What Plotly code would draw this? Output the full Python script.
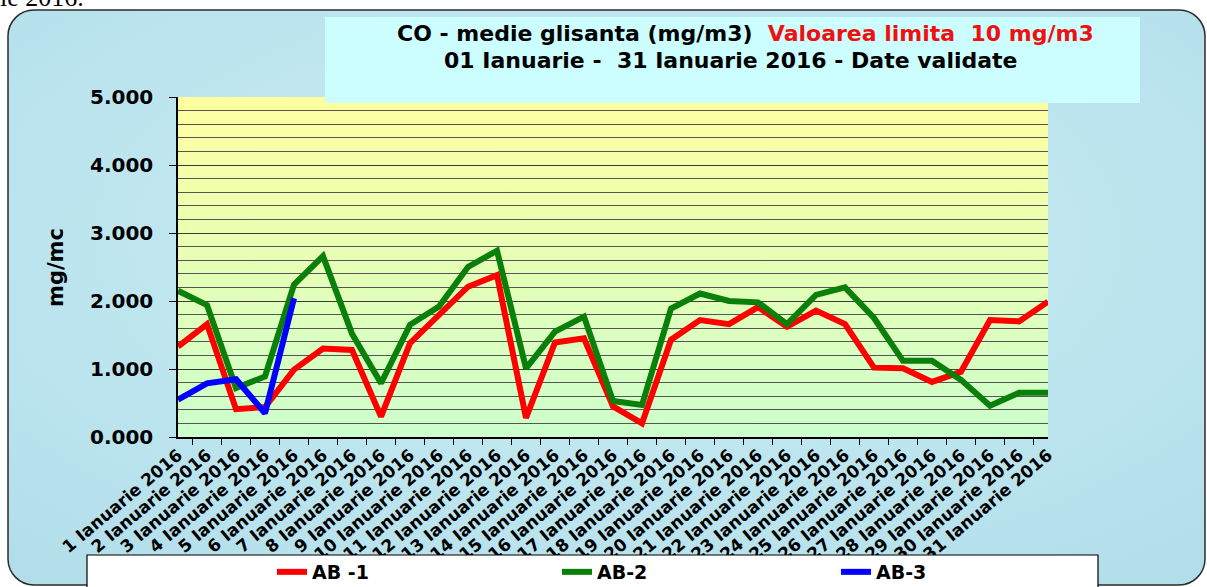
import urllib.parse

import plotly.graph_objects as go

# ---- data ----
days = [f"{d} Ianuarie 2016" for d in range(1, 32)]

ab1 = [1.33, 1.66, 0.41, 0.44, 0.99, 1.30, 1.28, 0.30, 1.38, 1.80,
       2.21, 2.38, 0.28, 1.39, 1.45, 0.45, 0.20, 1.43, 1.72, 1.66,
       1.91, 1.62, 1.86, 1.66, 1.02, 1.01, 0.81, 0.96, 1.72, 1.70, 1.99]
ab2 = [2.15, 1.94, 0.72, 0.89, 2.24, 2.66, 1.52, 0.79, 1.65, 1.92,
       2.50, 2.74, 1.01, 1.55, 1.77, 0.53, 0.47, 1.89, 2.11, 2.00,
       1.98, 1.66, 2.09, 2.20, 1.75, 1.12, 1.12, 0.84, 0.46, 0.65, 0.65]
ab3 = [0.55, 0.79, 0.85, 0.35, 2.04]

series = [("AB -1", ab1, "#ff0000"), ("AB-2", ab2, "#0a7f0a"), ("AB-3", ab3, "#0000ff")]

y_ticks = [0, 1, 2, 3, 4, 5]

# ---- page geometry (pixels) ----
W, H = 1207, 587
L, R, T, B = 178, 1048, 97, 437
PW, PH = R - L, B - T


def px(x):
    return (x - L) / PW


def py(y):
    return (B - y) / PH


def svg_uri(svg):
    return "data:image/svg+xml;charset=utf-8," + urllib.parse.quote(svg)


page_svg = (
    f"<svg xmlns='http://www.w3.org/2000/svg' width='{W}' height='{H}' "
    f"viewBox='0 0 {W} {H}' preserveAspectRatio='none'>"
    "<defs><radialGradient id='g' cx='0.5' cy='0.4' r='0.8'>"
    "<stop offset='0' stop-color='#cdeff6'/><stop offset='1' stop-color='#b0dde9'/>"
    "</radialGradient></defs>"
    f"<rect width='{W}' height='{H}' fill='white'/>"
    "<rect x='8' y='10' width='1197' height='575' rx='26' ry='26' "
    "fill='url(#g)' stroke='#2b2b2b' stroke-width='1.5'/></svg>"
)

plot_svg = (
    "<svg xmlns='http://www.w3.org/2000/svg' width='100' height='100' "
    "viewBox='0 0 100 100' preserveAspectRatio='none'>"
    "<defs><linearGradient id='p' x1='0' y1='0' x2='0' y2='1'>"
    "<stop offset='0' stop-color='#ffffa0'/><stop offset='1' stop-color='#ccffcc'/>"
    "</linearGradient></defs><rect width='100' height='100' fill='url(#p)'/></svg>"
)

bold = dict(family="DejaVu Sans, Arial, sans-serif", color="black", weight="bold")

# one legend per series so each entry sits where the reference has it
legend_names = ["legend", "legend2", "legend3"]
legend_text_x = [312, 597, 876]

fig = go.Figure()
for (name, vals, color), lg in zip(series, legend_names):
    fig.add_trace(go.Scatter(
        x=days[:len(vals)], y=vals, mode="lines", name=name, legend=lg,
        line=dict(color=color, width=6),
    ))

fig.update_xaxes(
    type="category", categoryorder="array", categoryarray=days,
    tickson="boundaries", ticks="outside", ticklen=6, tickcolor="black",
    showline=True, linecolor="black", linewidth=1.5,
    showgrid=False, tickangle=-40, automargin=False,
    tickfont=dict(size=17, **bold),
)
fig.update_yaxes(
    range=[0, 5], tickvals=y_ticks, tickformat=".3f",
    ticks="outside", ticklen=7, tickcolor="black",
    showline=True, linecolor="black", linewidth=1.5,
    showgrid=True, gridcolor="#3a3a3a", gridwidth=1.3,
    minor=dict(dtick=0.2, showgrid=True, gridcolor="#555555", gridwidth=1.3),
    zeroline=False, automargin=False, ticklabelstandoff=12,
    tickfont=dict(size=20, **bold),
)

legends = {
    lg: dict(
        orientation="h", xref="container", yref="container",
        x=(tx - 40) / W, y=1 - 572 / H, xanchor="left", yanchor="middle",
        bgcolor="rgba(0,0,0,0)", font=dict(size=19, **bold),
    )
    for lg, tx in zip(legend_names, legend_text_x)
}

fig.update_layout(
    width=W, height=H,
    margin=dict(l=L, r=W - R, t=T, b=H - B, autoexpand=False),
    paper_bgcolor="white", plot_bgcolor="rgba(0,0,0,0)",
    font=dict(family="DejaVu Sans, Arial, sans-serif", color="black"),
    images=[
        dict(source=svg_uri(page_svg), xref="paper", yref="paper",
             x=px(0), y=py(0), sizex=W / PW, sizey=H / PH,
             xanchor="left", yanchor="top", sizing="stretch", layer="below"),
        dict(source=svg_uri(plot_svg), xref="paper", yref="paper",
             x=0, y=1, sizex=1, sizey=1,
             xanchor="left", yanchor="top", sizing="stretch", layer="below"),
    ],
    shapes=[
        # title box
        dict(type="rect", xref="paper", yref="paper",
             x0=px(325), x1=px(1140), y0=py(103), y1=py(17),
             fillcolor="#ccfdff", line_width=0, layer="above"),
        # legend box
        dict(type="rect", xref="paper", yref="paper",
             x0=px(87), x1=px(1098), y0=py(600), y1=py(555),
             fillcolor="white", line=dict(color="black", width=1.2), layer="above"),
    ],
    annotations=[
        dict(text="CO - medie glisanta (mg/m3)  "
                  "<span style='color:#ee1111'>Valoarea limita  10 mg/m3</span>",
             xref="paper", yref="paper", x=px(745), y=py(33),
             xanchor="center", yanchor="middle",
             showarrow=False, font=dict(size=22, **bold)),
        dict(text="01 Ianuarie -  31 Ianuarie 2016 - Date validate",
             xref="paper", yref="paper", x=px(731), y=py(61),
             xanchor="center", yanchor="middle",
             showarrow=False, font=dict(size=22, **bold)),
        dict(text="mg/mc", textangle=-90, xref="paper", yref="paper",
             x=px(56), y=py(267), xanchor="center", yanchor="middle",
             showarrow=False, font=dict(size=21, **bold)),
        dict(text="ie 2016.", xref="paper", yref="paper", x=px(-2), y=py(14),
             xanchor="left", yanchor="bottom", showarrow=False,
             font=dict(size=26, family="Liberation Serif, Times New Roman, serif",
                       color="black")),
    ],
    showlegend=True,
    **legends,
)

# page body margin would shift the figure by 8px
fig.write_html("out.html", config={"displayModeBar": False},
               post_script="document.body.style.margin='0';")
